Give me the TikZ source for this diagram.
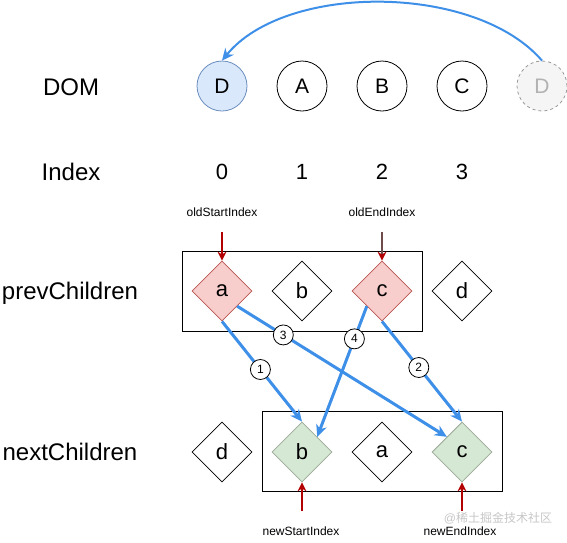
\documentclass[tikz,border=0pt]{standalone}
\usepackage{fontspec}
\setmainfont{Liberation Sans}
\newfontfamily\cjk{Noto Sans CJK SC}
\usetikzlibrary{shapes.geometric,arrows.meta}
\definecolor{blueA}{HTML}{3D8FE8}
\definecolor{redA}{HTML}{B20000}
\definecolor{brownA}{HTML}{6E4A4A}
\definecolor{domfill}{HTML}{DAE8FC}
\definecolor{domline}{HTML}{6C8EBF}
\definecolor{redfill}{HTML}{F8CECC}
\definecolor{redline}{HTML}{B85450}
\definecolor{greenfill}{HTML}{D5E8D4}
\definecolor{greenline}{HTML}{9AAA96}
\tikzset{
  rowlabel/.style={font=\fontsize{24}{28}\selectfont},
  idx/.style={font=\fontsize{22}{26}\selectfont},
  domc/.style={circle, draw, line width=0.8pt, minimum size=50pt, inner sep=0pt, font=\fontsize{21}{25}\selectfont},
  dia/.style={diamond, draw, line width=0.8pt, minimum width=60pt, minimum height=60pt, inner sep=0pt, font=\fontsize{22}{26}\selectfont},
  redd/.style={dia, fill=redfill, draw=redline},
  greend/.style={dia, fill=greenfill, draw=greenline},
  grp/.style={draw, line width=0.9pt},
  small/.style={font=\fontsize{12}{14}\selectfont},
  numc/.style={circle, draw=black, text=black, fill=white, line width=0.8pt, minimum size=20pt, inner sep=0pt, font=\fontsize{12}{14}\selectfont},
  bluearrow/.style={draw=blueA, line width=3pt, -{Stealth[length=12pt,width=11pt]}},
  redarrow/.style={draw=redA, line width=2pt, -{Stealth[length=9pt,width=9pt]}},
}
\begin{document}
\begin{tikzpicture}[x=1pt,y=-1pt]
\useasboundingbox (0,0) rectangle (567,542);
% row labels
\node[rowlabel] (lDOM) at (71,87) {DOM};
\node[rowlabel] (lIndex) at (71,172) {Index};
\node[rowlabel] (lPrev) at (70,293) {prevChildren};
\node[rowlabel] (lNext) at (70,452) {nextChildren};
% DOM
\node[domc, fill=domfill, draw=domline] (dD) at (222,86) {D};
\node[domc] (dA) at (302,86) {A};
\node[domc] (dB) at (382,86) {B};
\node[domc] (dC) at (462,86) {C};
\node[domc, dashed, draw=gray!80, fill=gray!8, text=gray!60] (dG) at (542,86) {D};
\draw[draw=blueA, line width=2pt, -{Stealth[length=12pt,width=11pt]}] (dG.north) .. controls (475,-17) and (285,-17) .. (dD.north);
% index
\node[idx] (i0) at (222,172) {0};
\node[idx] (i1) at (302,172) {1};
\node[idx] (i2) at (382,172) {2};
\node[idx] (i3) at (462,172) {3};
% prev children
\node[grp, minimum width=240pt, minimum height=80pt, inner sep=0pt] (prevBox) at (302,291) {};
\node[redd] (pa) at (222,291) {a};
\node[dia] (pb) at (302,291) {b};
\node[redd] (pc) at (382,291) {c};
\node[dia] (pd) at (462,291) {d};
\node[small] (oldS) at (222,212) {oldStartIndex};
\node[small] (oldE) at (382,212) {oldEndIndex};
\coordinate (oldSa) at (222,232);
\coordinate (oldEa) at (382,232);
\draw[redarrow] (oldSa) -- (pa.north);
\draw[draw=brownA, line width=2pt, -{Stealth[length=9pt,width=9pt,color=redA]}] (oldEa) -- (pc.north);
% next children
\node[grp, minimum width=240pt, minimum height=80pt, inner sep=0pt] (nextBox) at (382,451) {};
\node[dia] (nd) at (222,452) {d};
\node[greend] (nb) at (302,452) {b};
\node[dia] (na) at (382,452) {a};
\node[greend] (nc) at (462,452) {c};
\coordinate (newSa) at (302,511);
\coordinate (newEa) at (462,511);
\draw[redarrow] (newSa) -- (nb.south);
\draw[redarrow] (newEa) -- (nc.south);
\node[small] (newS) at (301,531) {newStartIndex};
\node[small] (newE) at (460,531) {newEndIndex};
% moves
\draw[bluearrow] (pa.south) -- node[numc, pos=0.48] (n1) {1} (nb.north);
\draw[bluearrow] (pc.south) -- node[numc, pos=0.46] (n2) {2} (nc.north);
\draw[bluearrow] (pa.south east) -- node[numc, pos=0.22] (n3) {3} (nc.north west);
\draw[bluearrow] (pc.south west) -- node[numc, pos=0.25] (n4) {4} (nb.north east);
% watermark
\node[text=gray!45, font=\fontsize{12}{14}\selectfont] (wm) at (498,518) {@{\cjk 稀土掘金技术社区}};
\end{tikzpicture}
\end{document}
